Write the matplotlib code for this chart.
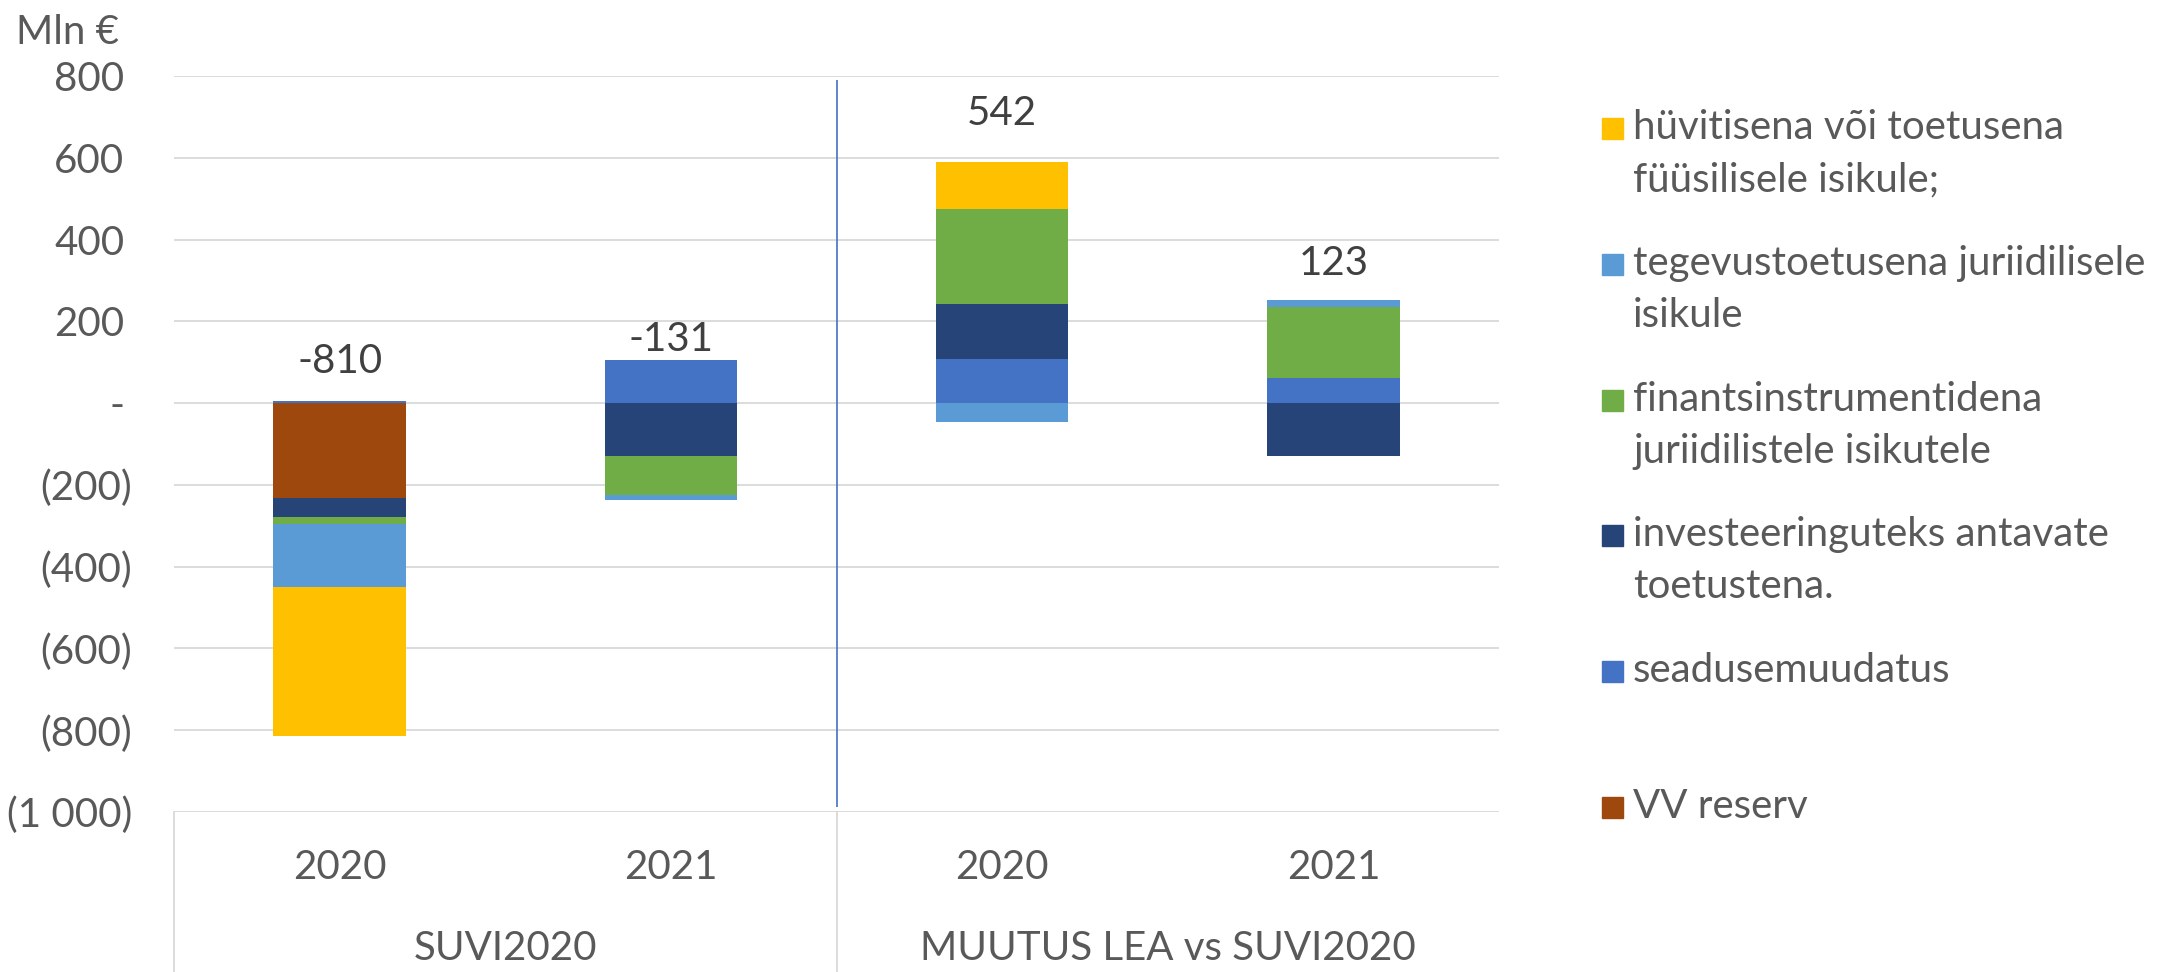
import matplotlib
matplotlib.use("Agg")
import matplotlib.pyplot as plt
from matplotlib.patches import Rectangle
from matplotlib.transforms import blended_transform_factory, ScaledTranslation

plt.rcParams['font.family'] = ['Lato', 'DejaVu Sans']

# categories
years = ["2020", "2021", "2020", "2021"]
groups = ["SUVI2020", "MUUTUS LEA vs SUVI2020"]

# series in stacking order (closest to zero first)
series_names = [
    "VV reserv",
    "seadusemuudatus",
    "investeeringuteks antavate\ntoetustena.",
    "finantsinstrumentidena\njuriidilistele isikutele",
    "tegevustoetusena juriidilisele\nisikule",
    "hüvitisena või toetusena\nfüüsilisele isikule;",
]
vv_reserv = [-232, 0, 0, 0]
seadusemuudatus = [4, 106, 109, 62]
investeeringud = [-46, -130, 134, -130]
finantsinstrumendid = [-18, -95, 231, 174]
tegevustoetus = [-153, -12, -47, 17]
huvitis = [-365, 0, 115, 0]
series_vals = [vv_reserv, seadusemuudatus, investeeringud, finantsinstrumendid, tegevustoetus, huvitis]
colors = ["#9E480E", "#4472C4", "#264478", "#70AD47", "#5B9BD5", "#FFC000"]

# legend order as in the chart
legend_order = [5, 4, 3, 2, 1, 0]

yticks = [800, 600, 400, 200, 0, -200, -400, -600, -800, -1000]
ytick_labels = ["800", "600", "400", "200", "-", "(200)", "(400)", "(600)", "(800)", "(1 000)"]

# total label gap above the bar (pixels)
label_gap = [21, 2, 30, 18]

W, H = 2159, 972
fig = plt.figure(figsize=(W / 100, H / 100), dpi=100)
L, R, T, B = 174, 1499, 76, 812
ax = fig.add_axes([L / W, 1 - B / H, (R - L) / W, (B - T) / H])

tick_col = "#595959"
grid_col = "#D9D9D9"
fs = 29

x = list(range(len(years)))
pos_base = [0.0] * 4
neg_base = [0.0] * 4
for vals, col in zip(series_vals, colors):
    bottoms = []
    for i, v in enumerate(vals):
        if v >= 0:
            bottoms.append(pos_base[i])
            pos_base[i] += v
        else:
            bottoms.append(neg_base[i])
            neg_base[i] += v
    ax.bar(x, vals, bottom=bottoms, width=0.4, color=col, linewidth=0, zorder=3)

ax.set_xlim(-0.5, 3.5)
ax.set_ylim(-1000, 800)
ax.set_yticks(yticks)
ax.set_yticklabels(ytick_labels)
ax.yaxis.grid(True, color=grid_col, linewidth=1.3, zorder=0)
ax.set_axisbelow(True)
ax.tick_params(axis='y', length=0, pad=30, labelsize=fs, labelcolor=tick_col)
ax.set_xticks([])
for s in ax.spines.values():
    s.set_visible(False)
shift = ScaledTranslation(-8 / 100, 0, fig.dpi_scale_trans)
for lbl in ax.get_yticklabels():
    if not lbl.get_text().startswith("("):
        lbl.set_transform(lbl.get_transform() + shift)

# totals
for i in x:
    total = sum(s[i] for s in series_vals)
    ax.annotate(f"{total:.0f}", (i, pos_base[i]), xytext=(0, label_gap[i] * 0.72),
                textcoords="offset points", ha="center", va="bottom",
                fontsize=fs, color="#404040", zorder=5)

# group separator
ax.vlines(1.5, -988, 790, color="#4472C4", linewidth=1.2, zorder=4)

# category axis
bt = blended_transform_factory(ax.transData, fig.transFigure)
for xv in [-0.5, 1.5]:
    ax.plot([xv, xv], [0, 1 - B / H], transform=bt, color=grid_col, linewidth=1.3, clip_on=False)
for i, yr in enumerate(years):
    ax.text(i, 1 - 867 / H, yr, transform=bt, ha="center", va="center", fontsize=fs, color=tick_col)
for g, name in enumerate(groups):
    ax.text(0.5 + 2 * g, 1 - 948 / H, name, transform=bt, ha="center", va="center", fontsize=fs, color=tick_col)

fig.text(16 / W, 1 - 33 / H, "Mln €", ha="left", va="center", fontsize=fs, color=tick_col)

# legend
for k, idx in enumerate(legend_order):
    base = 139 + 135.8 * k
    fig.patches.append(Rectangle((1602 / W, 1 - base / H), 21 / W, 21 / H,
                                 transform=fig.transFigure, color=colors[idx]))
    for j, line in enumerate(series_names[idx].split("\n")):
        fig.text(1633 / W, 1 - (base + 52 * j) / H, line, ha="left", va="baseline",
                 fontsize=fs, color=tick_col)

fig.savefig("out.png", dpi=100)
